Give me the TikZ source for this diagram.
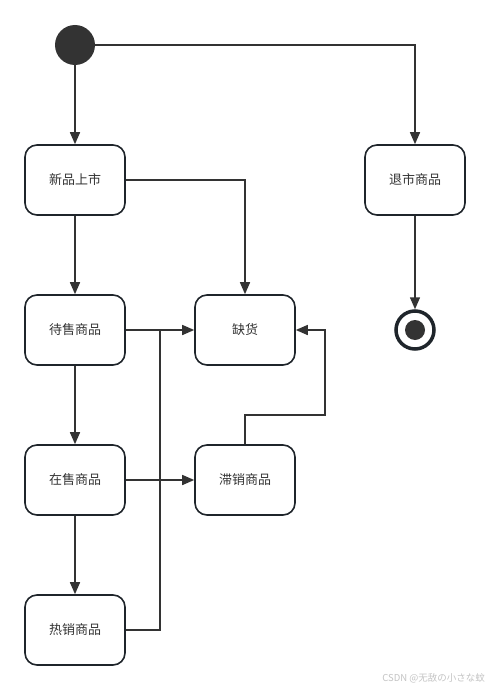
\documentclass[tikz,border=0pt]{standalone}
\usepackage{fontspec}
\newfontfamily\cjk{Noto Sans CJK SC}
\usetikzlibrary{arrows.meta}
\definecolor{linec}{HTML}{333333}
\definecolor{boxc}{HTML}{1F252B}
\definecolor{wm}{HTML}{C4C4C4}
\begin{document}
\begin{tikzpicture}[x=1pt,y=-1pt,
  state/.style={draw=boxc,line width=1.6pt,rounded corners=12pt,minimum width=100pt,minimum height=70pt,inner sep=0pt,font=\cjk\fontsize{13}{15}\selectfont,text=linec},
  conn/.style={draw=linec,line width=1.5pt,-{Triangle[length=12pt,width=10pt]}},
  plain/.style={draw=linec,line width=1.5pt}]
\useasboundingbox (0,0) rectangle (490,690);
\fill[white] (0,0) rectangle (490,690);
\node[circle,fill=linec,minimum size=40pt,inner sep=0pt] (start) at (75,45) {};
\node[state] (xp) at (75,180) {新品上市};
\node[state] (ds) at (75,330) {待售商品};
\node[state] (zs) at (75,480) {在售商品};
\node[state] (rx) at (75,630) {热销商品};
\node[state] (qh) at (245,330) {缺货};
\node[state] (zx) at (245,480) {滞销商品};
\node[state] (ts) at (415,180) {退市商品};
\node[circle,draw=boxc,line width=3.5pt,minimum size=38pt,inner sep=0pt] (end) at (415,330) {};
\node[circle,fill=linec,minimum size=20pt,inner sep=0pt] at (end) {};
\coordinate (j1) at (160,330);
\coordinate (j2) at (325,415);
\draw[conn] (start) -- (xp);
\draw[conn] (start.east) -| (ts.north);
\draw[conn] (xp.east) -| (qh.north);
\draw[conn] (xp) -- (ds);
\draw[conn] (ds.east) -- (qh.west);
\draw[plain] (rx.east) -| (j1);
\draw[conn] (ds) -- (zs);
\draw[conn] (zs) -- (rx);
\draw[conn] (zs.east) -- (zx.west);
\draw[conn] (zx.north) |- (j2) |- (qh.east);
\draw[conn] (ts) -- (end);
\node[anchor=east,text=wm,font=\cjk\fontsize{9.5}{11}\selectfont,inner sep=0pt] (wmk) at (485,678) {CSDN @无敌の小さな蚊};
\end{tikzpicture}
\end{document}
